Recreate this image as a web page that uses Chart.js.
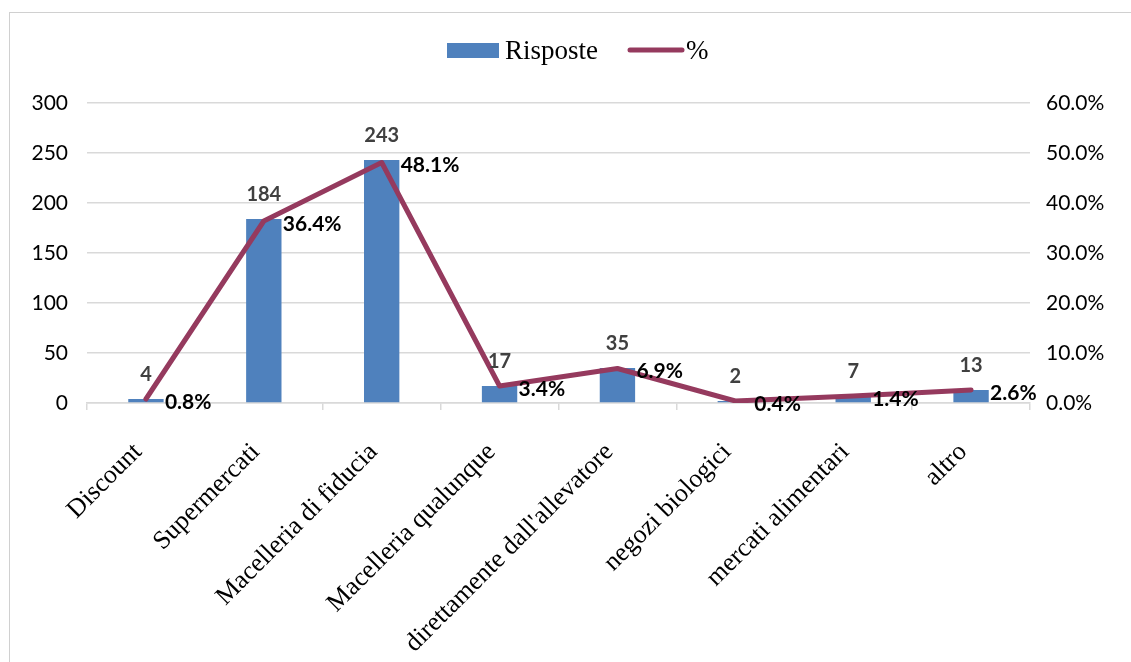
<!DOCTYPE html>
<html>
<head>
<meta charset="utf-8">
<script src="https://cdn.jsdelivr.net/npm/chart.js@4/dist/chart.umd.min.js"></script>
<style>
  html, body { margin: 0; padding: 0; background: #ffffff; }
  #wrap { position: relative; width: 1131px; height: 662px; overflow: hidden; }
  #frame { position: absolute; left: 9px; top: 12px; width: 1200px; height: 700px; border: 1px solid #d0d0d0; }
  canvas { position: absolute; left: 0; top: 0; }
</style>
</head>
<body>
<div id="wrap">
  <div id="frame"></div>
  <canvas id="chart" width="1131" height="662"></canvas>
</div>
<script>
const categories = ['Discount', 'Supermercati', 'Macelleria di fiducia', 'Macelleria qualunque',
  "direttamente dall'allevatore", 'negozi biologici', 'mercati alimentari', 'altro'];
const risposte = [4, 184, 243, 17, 35, 2, 7, 13];
const percent = [0.8, 36.4, 48.1, 3.4, 6.9, 0.4, 1.4, 2.6];
const leftTicks = [0, 50, 100, 150, 200, 250, 300];
const rightTicks = [0, 10, 20, 30, 40, 50, 60];

const BLUE = '#4f81bd';
const WINE = '#953a5e';
const GRID = '#d9d9d9';
const SANS = 'Lato, "Open Sans", sans-serif';
const SERIF = '"Liberation Serif", "DejaVu Serif", serif';

const labelPlugin = {
  id: 'valueLabels',
  afterDatasetsDraw(chart) {
    const ctx = chart.ctx;
    ctx.save();
    ctx.textBaseline = 'middle';

    // bar values above bars
    ctx.font = 'bold 20px ' + SANS;
    ctx.fillStyle = '#404040';
    ctx.textAlign = 'center';
    chart.getDatasetMeta(1).data.forEach((bar, i) => {
      ctx.fillText(String(risposte[i]), bar.x, bar.y - 24);
    });

    // percentages right of the line points
    ctx.font = 'bold 21px ' + SANS;
    ctx.fillStyle = '#000000';
    ctx.textAlign = 'left';
    chart.getDatasetMeta(0).data.forEach((pt, i) => {
      ctx.fillText(percent[i].toFixed(1) + '%', pt.x + 19, pt.y + 3);
    });
    ctx.restore();
  }
};

const legendPlugin = {
  id: 'topLegend',
  afterDraw(chart) {
    const ctx = chart.ctx;
    ctx.save();
    ctx.fillStyle = BLUE;
    ctx.fillRect(447, 43, 52, 15);
    ctx.font = '27px ' + SERIF;
    ctx.fillStyle = '#000000';
    ctx.textBaseline = 'alphabetic';
    ctx.textAlign = 'left';
    ctx.fillText('Risposte', 505, 59);
    ctx.strokeStyle = WINE;
    ctx.lineWidth = 5;
    ctx.lineCap = 'round';
    ctx.beginPath();
    ctx.moveTo(630, 50);
    ctx.lineTo(682, 50);
    ctx.stroke();
    ctx.fillText('%', 686, 59);
    ctx.restore();
  }
};

new Chart(document.getElementById('chart'), {
  type: 'bar',
  data: {
    labels: categories,
    datasets: [
      {
        type: 'line',
        label: '%',
        data: percent,
        yAxisID: 'y1',
        borderColor: WINE,
        backgroundColor: WINE,
        borderWidth: 5,
        borderCapStyle: 'round',
        borderJoinStyle: 'round',
        pointRadius: 0,
        tension: 0,
        order: 0
      },
      {
        type: 'bar',
        label: 'Risposte',
        data: risposte,
        yAxisID: 'y',
        backgroundColor: BLUE,
        barPercentage: 0.3,
        categoryPercentage: 1,
        order: 1
      }
    ]
  },
  options: {
    responsive: false,
    animation: false,
    devicePixelRatio: 1,
    layout: { padding: { top: 103, left: 0, right: 0, bottom: 0 } },
    plugins: {
      legend: { display: false },
      tooltip: { enabled: false }
    },
    scales: {
      x: {
        offset: true,
        grid: {
          offset: true,
          drawOnChartArea: false,
          drawTicks: true,
          tickLength: 7,
          color: GRID,
          lineWidth: 1.5
        },
        border: { display: true, color: GRID, width: 1.5 },
        ticks: {
          color: '#000000',
          font: { family: SERIF, size: 26 },
          maxRotation: 45,
          minRotation: 45,
          autoSkip: false,
          padding: 27,
          labelOffset: -8
        },
        afterFit(scale) { scale.height = 259; }
      },
      y: {
        position: 'left',
        min: 0,
        max: 300,
        afterBuildTicks(scale) { scale.ticks = leftTicks.map(v => ({ value: v })); },
        grid: { color: GRID, lineWidth: 1.5, drawTicks: false },
        border: { display: false },
        ticks: {
          color: '#000000',
          font: { family: SANS, size: 21 },
          padding: 19
        },
        afterFit(scale) { scale.width = 87; }
      },
      y1: {
        position: 'right',
        min: 0,
        max: 60,
        afterBuildTicks(scale) { scale.ticks = rightTicks.map(v => ({ value: v })); },
        grid: { drawOnChartArea: false, drawTicks: false },
        border: { display: false },
        ticks: {
          color: '#000000',
          font: { family: SANS, size: 21 },
          padding: 16,
          callback: v => v.toFixed(1) + '%'
        },
        afterFit(scale) { scale.width = 101; }
      }
    }
  },
  plugins: [labelPlugin, legendPlugin]
});
</script>
</body>
</html>
